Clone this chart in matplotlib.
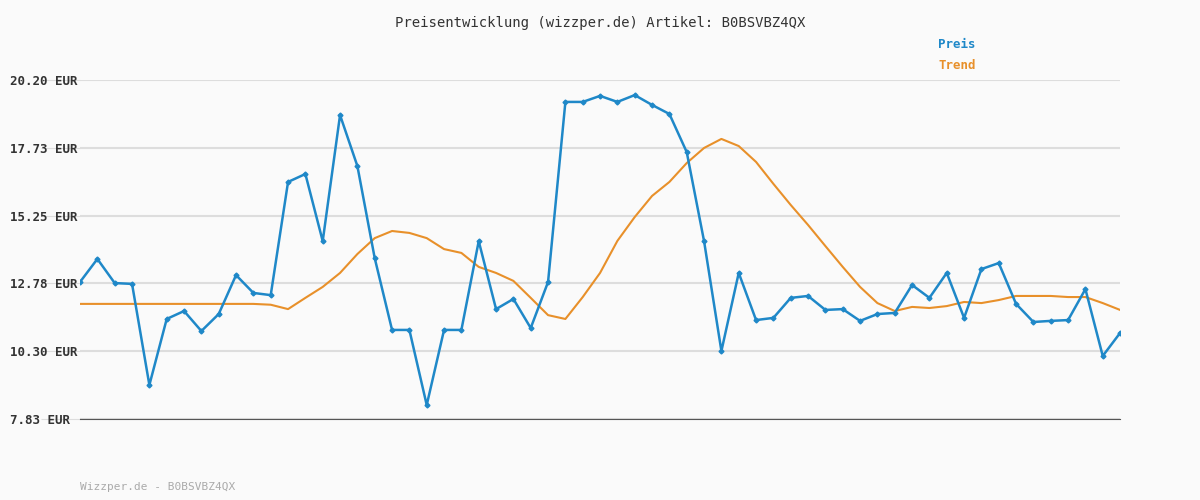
import matplotlib
matplotlib.use("Agg")
import matplotlib.pyplot as plt

preis = [12.83, 13.67, 12.79, 12.76, 9.07, 11.48, 11.77, 11.04, 11.66, 13.08,
         12.43, 12.35, 16.48, 16.77, 14.32, 18.92, 17.06, 13.70, 11.08, 11.08,
         8.34, 11.08, 11.08, 14.32, 11.84, 12.21, 11.15, 12.83, 19.40, 19.40,
         19.62, 19.40, 19.65, 19.29, 18.96, 17.57, 14.32, 10.31, 13.16, 11.44,
         11.52, 12.25, 12.32, 11.81, 11.84, 11.41, 11.66, 11.70, 12.72, 12.25,
         13.16, 11.52, 13.30, 13.52, 12.03, 11.37, 11.41, 11.44, 12.57, 10.13,
         10.97]
trend = [12.03, 12.03, 12.03, 12.03, 12.03, 12.03, 12.03, 12.03, 12.03, 12.03,
         12.03, 12.00, 11.84, 12.25, 12.65, 13.16, 13.85, 14.43, 14.69, 14.62,
         14.43, 14.03, 13.89, 13.38, 13.16, 12.87, 12.25, 11.62, 11.48, 12.28,
         13.16, 14.33, 15.20, 15.97, 16.48, 17.17, 17.72, 18.05, 17.79, 17.21,
         16.41, 15.64, 14.91, 14.14, 13.38, 12.65, 12.06, 11.77, 11.92, 11.88,
         11.95, 12.10, 12.06, 12.17, 12.32, 12.32, 12.32, 12.28, 12.28, 12.06,
         11.81]
yticks = [7.83, 10.30, 12.78, 15.25, 17.73, 20.20]

plt.rcParams['font.family'] = 'DejaVu Sans Mono'
fig = plt.figure(figsize=(12, 5), dpi=100, facecolor='#fafafa')
ax = fig.add_axes([0.0667, 0.162, 0.8667, 0.678], facecolor='#fafafa')
x = range(len(preis))
ax.plot(x, trend, color='#e8902a', lw=1.5)
ax.plot(x, preis, color='#1f88c8', lw=1.8, marker='D', ms=2.5)
ax.set_xlim(0, len(preis) - 1)
ax.set_ylim(yticks[0], yticks[-1])
ax.set_yticks(yticks)
ax.set_yticklabels([f"{v:.2f} EUR" for v in yticks], fontsize=9, fontweight='bold', color='#333333')
ax.set_xticks([])
ax.grid(axis='y', color='#dddddd', lw=1.5)
ax.tick_params(axis='y', length=28, color='#dddddd', pad=-24)
for lab in ax.get_yticklabels():
    lab.set_horizontalalignment('left')
    lab.set_x(-0.062)
for s in ['top', 'right', 'left']:
    ax.spines[s].set_visible(False)
ax.spines['bottom'].set_color('#555555')
fig.text(0.5, 0.945, "Preisentwicklung (wizzper.de) Artikel: B0BSVBZ4QX", ha='center', fontsize=10, color='#333333')
fig.text(0.782, 0.905, "Preis", color='#1f88c8', fontsize=9, fontweight='bold')
fig.text(0.782, 0.862, "Trend", color='#e8902a', fontsize=9, fontweight='bold')
fig.text(0.0667, 0.02, "Wizzper.de - B0BSVBZ4QX", color='#aaaaaa', fontsize=8)
fig.savefig("out.png", facecolor=fig.get_facecolor())
